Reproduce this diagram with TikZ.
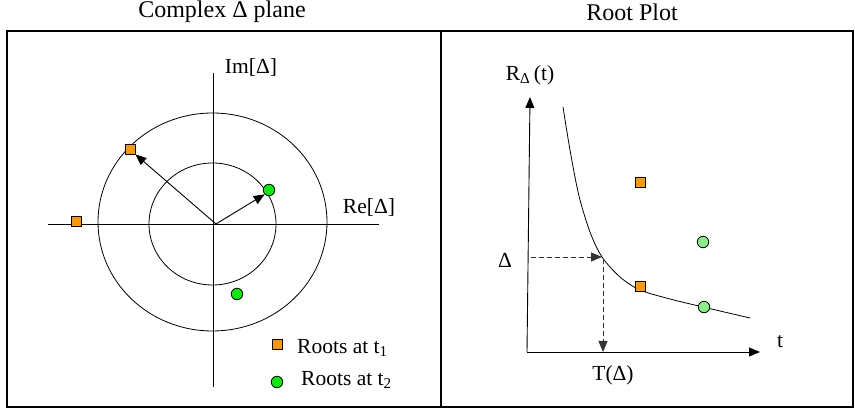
\documentclass[tikz,border=0pt]{standalone}
\usepackage{fontspec}
\setmainfont{Liberation Serif}
\usetikzlibrary{arrows.meta}
\definecolor{orng}{HTML}{FF9900}
\definecolor{grnA}{HTML}{00EE00}
\definecolor{grnB}{HTML}{88EE88}
\tikzset{
  lbl/.style={inner sep=0pt,font=\fontsize{21.5}{24}\selectfont},
  ttl/.style={inner sep=0pt,font=\fontsize{24}{28}\selectfont},
  sq/.style={draw=black,fill=orng,rectangle,minimum size=10pt,inner sep=0pt,line width=0.8pt},
  dotA/.style={draw=black,fill=grnA,circle,minimum size=11.5pt,inner sep=0pt,line width=0.8pt},
  dotB/.style={draw=black,fill=grnB,circle,minimum size=11.5pt,inner sep=0pt,line width=0.8pt},
  tip/.style={-{Triangle[length=11pt,width=9pt]}},
  ax/.style={line width=0.9pt},
  dsh/.style={line width=0.9pt,draw=black!80,dash pattern=on 5pt off 3pt},
}
\begin{document}
\begin{tikzpicture}[x=1pt,y=-1pt]
\useasboundingbox (0,0) rectangle (855,411);
% titles
\node[ttl] (t1) at (222,12) {Complex Δ plane};
\node[ttl] (t2) at (632,12) {Root Plot};
% frame
\draw[line width=1.8pt] (7,31) rectangle (853,407);
\draw[line width=1.8pt] (441,31) -- (441,407);
% ---- left panel
\coordinate (O) at (213,224);
\draw[ax] (213,73) -- (213,387);
\draw[ax] (48,224) -- (379,224);
\draw[line width=0.8pt] (212.5,222) ellipse [x radius=114.5, y radius=109];
\draw[line width=0.8pt] (212.5,224) ellipse [x radius=63.5, y radius=61];
\node[sq] (s1) at (130,149) {};
\node[sq] (s2) at (76,221) {};
\node[dotA] (c1) at (269,190) {};
\node[dotA] (c2) at (237,294) {};
\draw[ax,tip] (216,224) -- (s1.south east);
\draw[ax,tip] (216,224) -- (c1.south west);
\node[lbl] (im) at (251,67) {Im[Δ]};
\node[lbl] (re) at (369,207) {Re[Δ]};
\node[sq] (ls) at (277,344) {};
\node[lbl,anchor=west] (lt1) at (297,348) {Roots at t\textsubscript{1}};
\node[dotA] (lc) at (277,382) {};
\node[lbl,anchor=west] (lt2) at (301,380) {Roots at t\textsubscript{2}};
% ---- right panel
\coordinate (P) at (527,352);
\draw[ax,tip] (P) -- (530,97);
\draw[ax,tip] (P) -- (760,352);
\node[lbl] (ry) at (530,75) {R\textsubscript{Δ}\,(t)};
\node[lbl] (tx) at (780,342) {t};
\node[lbl] (dl) at (505,260) {Δ};
\node[lbl] (td) at (613,375) {T(Δ)};
\draw[line width=0.8pt] plot[smooth] coordinates {(563,107) (570,150) (579,196) (590,232) (602,257) (620,277) (640,290) (670,299) (703,307) (750,318)};
\coordinate (K) at (602,257);
\draw[dsh,tip] (531,257) -- (K);
\draw[dsh,tip] (603,259) -- (603,352);
\node[sq] (s3) at (640,182) {};
\node[sq] (s4) at (640,286) {};
\node[dotB] (c3) at (703,242) {};
\node[dotB] (c4) at (704,307) {};
\end{tikzpicture}
\end{document}
